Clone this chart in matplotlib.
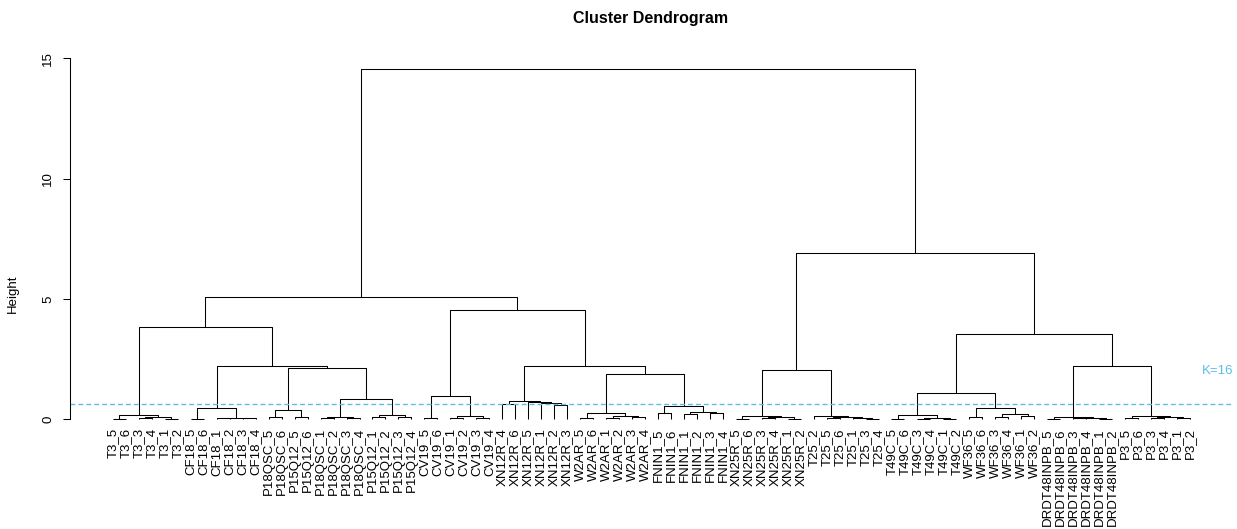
import matplotlib
matplotlib.use("Agg")
import matplotlib.pyplot as plt
from matplotlib.collections import LineCollection

plt.rcParams['font.family'] = ['Liberation Sans', 'DejaVu Sans']

# Dendrogram: (merge height, left, right), leaves are labels
t3 = (0.18, (0.02, "T3_5", "T3_6"), (0.10, (0.04, "T3_3", "T3_4"), (0.03, "T3_1", "T3_2")))
cf18 = (0.48, (0.03, "CF18_5", "CF18_6"), (0.07, (0.04, "CF18_1", "CF18_2"), (0.05, "CF18_3", "CF18_4")))
pq_a = (0.37, (0.09, "P18QSC_5", "P18QSC_6"), (0.10, "P15Q12_5", "P15Q12_6"))
pq_b = (0.86, (0.11, (0.04, "P18QSC_1", "P18QSC_2"), (0.05, "P18QSC_3", "P18QSC_4")),
        (0.18, (0.08, "P15Q12_1", "P15Q12_2"), (0.09, "P15Q12_3", "P15Q12_4")))
cv19 = (0.97, (0.07, "CV19_5", "CV19_6"), (0.13, (0.06, "CV19_1", "CV19_2"), (0.04, "CV19_3", "CV19_4")))
xn12r = (0.74, (0.62, "XN12R_4", "XN12R_6"),
         (0.71, "XN12R_5", (0.67, "XN12R_1", (0.59, "XN12R_2", "XN12R_3"))))
w2ar = (0.28, (0.07, "W2AR_5", "W2AR_6"), (0.15, (0.05, "W2AR_1", "W2AR_2"), (0.08, "W2AR_3", "W2AR_4")))
fnin1 = (0.57, (0.26, "FNIN1_5", "FNIN1_6"), (0.29, (0.20, "FNIN1_1", "FNIN1_2"), (0.25, "FNIN1_3", "FNIN1_4")))
xn25r = (0.14, (0.02, "XN25R_5", "XN25R_6"), (0.08, (0.05, "XN25R_3", "XN25R_4"), (0.03, "XN25R_1", "XN25R_2")))
t25 = (0.14, "T25_2", (0.08, (0.04, "T25_5", "T25_6"), (0.05, "T25_1", (0.02, "T25_3", "T25_4"))))
t49c = (0.18, (0.03, "T49C_5", "T49C_6"), (0.07, (0.03, "T49C_3", "T49C_4"), (0.03, "T49C_1", "T49C_2")))
wf36 = (0.46, (0.11, "WF36_5", "WF36_6"), (0.23, (0.11, "WF36_3", "WF36_4"), (0.13, "WF36_1", "WF36_2")))
drdt = (0.10, (0.02, "DRDT48INPB_5", "DRDT48INPB_6"),
        (0.07, (0.04, "DRDT48INPB_3", "DRDT48INPB_4"), (0.03, "DRDT48INPB_1", "DRDT48INPB_2")))
p3 = (0.14, (0.04, "P3_5", "P3_6"), (0.10, (0.06, "P3_3", "P3_4"), (0.04, "P3_1", "P3_2")))

left_left = (3.82, t3, (2.23, cf18, (2.15, pq_a, pq_b)))
left_right = (4.55, cv19, (2.23, xn12r, (1.90, w2ar, fnin1)))
right = (6.91, (2.06, xn25r, t25), (3.53, (1.11, t49c, wf36), (2.21, drdt, p3)))
tree = (14.55, (5.08, left_left, left_right), right)

cut_height = 0.64
cut_label = "K=16"
cut_color = "#5BBDEA"

leaves = []
segments = []


def layout(node):
    if isinstance(node, str):
        leaves.append(node)
        return len(leaves), 0.0
    h, a, b = node
    xa, ha = layout(a)
    xb, hb = layout(b)
    segments.append([(xa, ha), (xa, h), (xb, h), (xb, hb)])
    return (xa + xb) / 2, h


layout(tree)
n = len(leaves)

fig = plt.figure(figsize=(12.37, 5.29), dpi=100)
ax = fig.add_axes([69.9 / 1237, 95.7 / 529, 1163.1 / 1237, 378.2 / 529])
ax.add_collection(LineCollection(segments, colors='black', linewidths=0.75))
ax.set_xlim(1 - 0.04 * (n - 1), n + 0.04 * (n - 1))
ax.set_ylim(-0.582, 15.13)

for i, lab in enumerate(leaves):
    ax.text(i + 1, -0.37, lab, rotation=90, ha='center', va='top', fontsize=9.5)

ax.axhline(cut_height, color=cut_color, lw=1.0, linestyle=(0, (3.5, 2.2)))
ax.text(86.1, 2.0, cut_label, color=cut_color, ha='center', va='center', fontsize=9.5)

for s in ['top', 'right', 'bottom']:
    ax.spines[s].set_visible(False)
ax.spines['left'].set_bounds(0, 15)
ax.spines['left'].set_linewidth(0.75)
ax.set_xticks([])
ax.set_yticks([0, 5, 10, 15])
ax.tick_params(axis='y', length=5.4, width=0.75, pad=6, labelsize=9.5)
for t in ax.get_yticklabels():
    t.set_rotation(90)
    t.set_va('center')

fig.text(13.3 / 1237, 1 - 294 / 529, "Height", rotation=90, ha='center', va='center', fontsize=9.5)
fig.text(651 / 1237, 1 - 19 / 529, "Cluster Dendrogram", ha='center', va='center',
         fontsize=11.5, fontweight='bold')

fig.savefig("out.png", dpi=100)
